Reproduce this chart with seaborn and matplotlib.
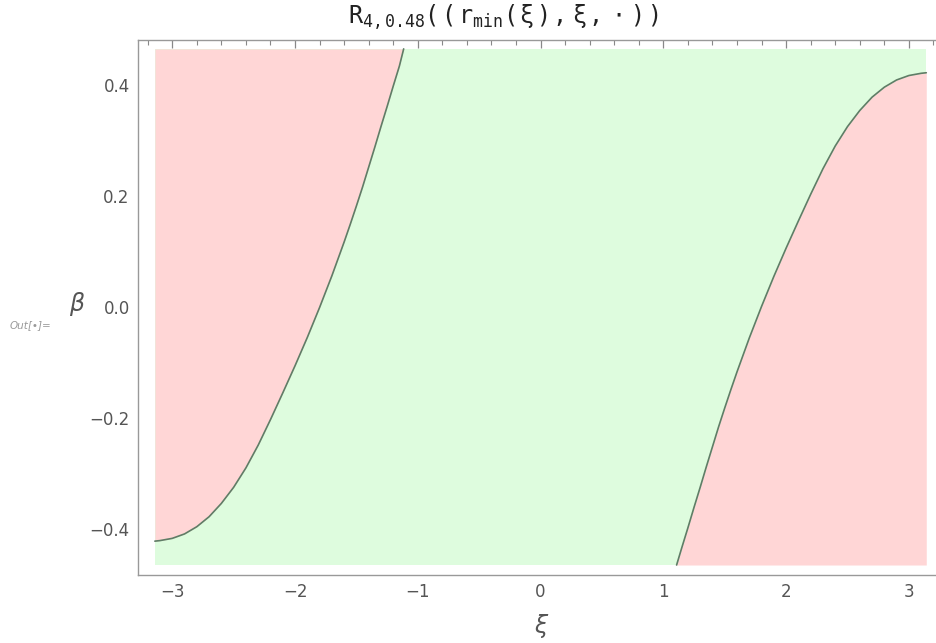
import numpy as np
import matplotlib
matplotlib.use("Agg")
import matplotlib.pyplot as plt
import seaborn as sns
from matplotlib.ticker import MultipleLocator, FuncFormatter

# Region limits of the plot (xi in [-pi, pi])
XI_MIN, XI_MAX = -np.pi, np.pi
BETA_MIN, BETA_MAX = -0.465, 0.465

# Left boundary curve (red region above it)
xi_left = [-3.1416, -3.1, -3.0, -2.9, -2.8, -2.7, -2.6, -2.5, -2.4, -2.3, -2.2,
           -2.1, -2.0, -1.9, -1.8, -1.7, -1.6, -1.55, -1.5, -1.45, -1.4, -1.35,
           -1.3, -1.25, -1.2, -1.15, -1.115]
beta_left = [-0.422, -0.421, -0.417, -0.409, -0.396, -0.378, -0.354, -0.325, -0.290,
             -0.249, -0.203, -0.155, -0.106, -0.055, -0.001, 0.056, 0.117, 0.149,
             0.182, 0.216, 0.252, 0.288, 0.325, 0.361, 0.398, 0.434, 0.465]

# Right boundary curve (red region below it)
xi_right = [1.108, 1.15, 1.2, 1.25, 1.3, 1.35, 1.4, 1.45, 1.5, 1.55, 1.6, 1.7, 1.8,
            1.9, 2.0, 2.1, 2.2, 2.3, 2.4, 2.5, 2.6, 2.7, 2.8, 2.9, 3.0, 3.1, 3.1416]
beta_right = [-0.465, -0.434, -0.398, -0.361, -0.325, -0.288, -0.252, -0.216, -0.182,
              -0.149, -0.117, -0.056, 0.001, 0.055, 0.106, 0.155, 0.203, 0.249,
              0.290, 0.325, 0.354, 0.378, 0.396, 0.409, 0.417, 0.421, 0.422]

red = "#ffd6d6"
green = "#defcde"
edge = "#5f7d66"
gray = "#555555"

sns.set_theme(style="white")
plt.rcParams["font.family"] = ["DejaVu Sans"]
plt.rcParams["mathtext.fontset"] = "custom"
plt.rcParams["mathtext.rm"] = "DejaVu Sans Mono"
plt.rcParams["mathtext.it"] = "DejaVu Sans Mono"

fig = plt.figure(figsize=(9.37, 6.43), dpi=100)
ax = fig.add_axes([138 / 937, 1 - 575 / 643, 806 / 937, 535 / 643])

# background region (green) and the two red regions
ax.fill_between([XI_MIN, XI_MAX], BETA_MIN, BETA_MAX, color=green, lw=0)
ax.fill_between(xi_left, beta_left, BETA_MAX, color=red, lw=0)
ax.fill_between(xi_right, BETA_MIN, beta_right, color=red, lw=0)

sns.lineplot(x=xi_left, y=beta_left, ax=ax, color=edge, lw=1.2, sort=False, estimator=None)
sns.lineplot(x=xi_right, y=beta_right, ax=ax, color=edge, lw=1.2, sort=False, estimator=None)

ax.set_xlim(-3.279, 3.286)
ax.set_ylim(-0.483, 0.481)

ax.xaxis.set_major_locator(MultipleLocator(1))
ax.xaxis.set_minor_locator(MultipleLocator(0.2))
ax.yaxis.set_major_locator(MultipleLocator(0.2))
ax.yaxis.set_minor_locator(MultipleLocator(0.05))

def fmt_x(v, pos):
    s = f"{v:.0f}"
    return "0" if s == "-0" else s.replace("-", "\u2212")

def fmt_y(v, pos):
    s = f"{v:.1f}"
    return "0.0" if s == "-0.0" else s.replace("-", "\u2212")

ax.xaxis.set_major_formatter(FuncFormatter(fmt_x))
ax.yaxis.set_major_formatter(FuncFormatter(fmt_y))

ax.tick_params(which="both", direction="in", top=True, right=True, color="#888888",
               labelcolor=gray, labelsize=12)
ax.tick_params(which="major", length=6, width=0.9, pad=6)
ax.tick_params(which="minor", length=3.5, width=0.8)
for sp in ax.spines.values():
    sp.set_color("#999999")
    sp.set_linewidth(1.0)

ax.set_xlabel("")
ax.set_ylabel("")
fig.text(541 / 937, 1 - 626 / 643, "\u03be", fontsize=17, color=gray, ha="center", va="center",
         style="italic")
fig.text(77 / 937, 1 - 304 / 643, "\u03b2", fontsize=17, color=gray, ha="center", va="center",
         style="italic")
fig.text(30 / 937, 1 - 325 / 643, "Out[\u2022]=", fontsize=7.5, color="#999999",
         style="italic", ha="center", va="center")

title = r"$\mathrm{R}_{\mathrm{4,0.48}}\mathrm{(\,(\,r}_{\mathrm{min}}\mathrm{(\,\xi\,)\,,\,\xi\,,\,\cdot\,)\,)}$"
fig.text(503 / 937, 1 - 17 / 643, title, fontsize=17, color="#222222", ha="center", va="center")

fig.savefig("out.png", dpi=100)
